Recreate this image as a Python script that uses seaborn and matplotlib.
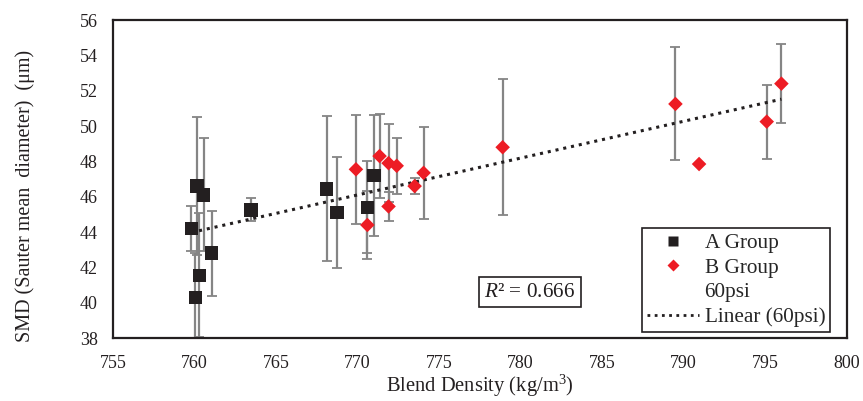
import numpy as np
import pandas as pd
import matplotlib
matplotlib.use("Agg")
import matplotlib.pyplot as plt
from matplotlib.lines import Line2D
import seaborn as sns

# ── DATA ─────────────────────────────────────────────────────────────────────
a_density = [759.8, 760.15, 760.55, 761.05, 760.3, 760.05, 763.45, 768.1, 768.75, 770.6, 771.0]
a_smd     = [44.2, 46.6, 46.1, 42.8, 41.55, 40.3, 45.25, 46.45, 45.1, 45.4, 47.2]
a_err     = [1.3, 3.9, 3.2, 2.4, 3.5, 2.5, 0.65, 4.1, 3.15, 2.6, 3.4]

b_density = [769.9, 770.6, 771.35, 771.9, 771.9, 772.4, 773.5, 774.05, 778.9, 789.5, 790.95, 795.1, 796.0]
b_smd     = [47.55, 44.4, 48.3, 47.9, 45.45, 47.75, 46.6, 47.35, 48.8, 51.25, 47.85, 50.25, 52.4]
b_err     = [3.1, 1.95, 2.4, 2.2, 0.8, 1.6, 0.45, 2.6, 3.85, 3.2, 0.0, 2.1, 2.25]

x_ticks = [755, 760, 765, 770, 775, 780, 785, 790, 795, 800]
y_ticks = [38, 40, 42, 44, 46, 48, 50, 52, 54, 56]
r2_text = "0.666"

df = pd.concat([
    pd.DataFrame({"density": a_density, "smd": a_smd, "err": a_err, "group": "A Group"}),
    pd.DataFrame({"density": b_density, "smd": b_smd, "err": b_err, "group": "B Group"}),
], ignore_index=True)

# ── STYLE ────────────────────────────────────────────────────────────────────
sns.set_theme(style="white")
plt.rcParams["font.family"] = ["Liberation Serif", "DejaVu Serif"]
plt.rcParams["mathtext.fontset"] = "custom"
plt.rcParams["mathtext.rm"] = "Liberation Serif"
plt.rcParams["mathtext.it"] = "Liberation Serif:italic"

INK = "#231f20"
fig = plt.figure(figsize=(8.63, 4.01), dpi=100)
ax = fig.add_axes([0.131, 0.157, 0.850, 0.793])

# error bars
ax.errorbar(df["density"], df["smd"], yerr=df["err"], fmt="none",
            ecolor="#858585", elinewidth=1.6, capsize=3.3, capthick=1.3, zorder=1)

# markers
sns.scatterplot(data=df, x="density", y="smd", hue="group", style="group",
                palette={"A Group": INK, "B Group": "#ed1c24"},
                markers={"A Group": "s", "B Group": "D"},
                size="group", sizes={"A Group": 95, "B Group": 55},
                edgecolor="none", linewidth=0, legend=False, ax=ax, zorder=3)

# linear trend over all points
sns.regplot(data=df, x="density", y="smd", scatter=False, ci=None, truncate=True,
            line_kws={"color": INK, "linestyle": (0, (1, 1.6)), "linewidth": 2.2},
            ax=ax)

ax.set_xlim(755, 800)
ax.set_ylim(38, 56)
ax.set_xticks(x_ticks)
ax.set_yticks(y_ticks)
ax.tick_params(labelsize=13, length=0, colors=INK)
ax.tick_params(axis="x", pad=12)
ax.tick_params(axis="y", pad=11)
ax.set_xlabel("Blend Density (kg/m$^3$)", fontsize=14.8, color=INK, labelpad=1)
ax.set_ylabel("SMD (Sauter mean  diameter)  (μm)", fontsize=14.5, color=INK)
ax.yaxis.set_label_coords(-0.107, 0.447)
for sp in ax.spines.values():
    sp.set_visible(True)
    sp.set_color(INK)
    sp.set_linewidth(1.6)

# R² box
ax.text(780.57, 40.6, "$R$² = " + r2_text, fontsize=15.3, color=INK,
        ha="center", va="center",
        bbox=dict(boxstyle="square,pad=0.25", fc="white", ec=INK, lw=1.2))

# legend
handles = [
    Line2D([], [], marker="s", color="none", markerfacecolor=INK, markeredgecolor="none", markersize=7.5),
    Line2D([], [], marker="D", color="none", markerfacecolor="#ed1c24", markeredgecolor="none", markersize=6.5),
    Line2D([], [], color="none"),
    Line2D([], [], color=INK, linestyle=(0, (1, 1.6)), linewidth=2),
]
labels = ["A Group", "B Group", "60psi", "Linear (60psi)"]
leg = ax.legend(handles, labels, loc="lower right", bbox_to_anchor=(0.978, 0.018),
                fontsize=15.3, frameon=True, fancybox=False, framealpha=1,
                edgecolor=INK, handlelength=2.45, handletextpad=0.25,
                labelspacing=0.22, borderpad=0.25, borderaxespad=0)
leg.get_frame().set_linewidth(1.2)

fig.savefig("out.png", dpi=100)
